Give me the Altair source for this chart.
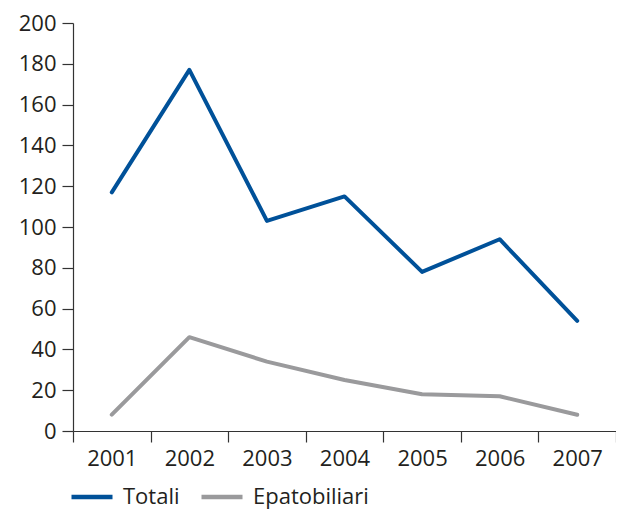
import altair as alt
import pandas as pd

years = ["2001", "2002", "2003", "2004", "2005", "2006", "2007"]
totali = [117, 177, 103, 115, 78, 94, 54]
epatobiliari = [8, 46, 34, 25, 18, 17, 8]
series = ["Totali", "Epatobiliari"]
colors = ["#005199", "#9a9a9c"]

rows = []
for y, v in zip(years, totali):
    rows.append({"anno": y, "valore": v, "serie": series[0]})
for y, v in zip(years, epatobiliari):
    rows.append({"anno": y, "valore": v, "serie": series[1]})
df = pd.DataFrame(rows)

FONT = "Open Sans"
TXT = "#231f20"

chart = alt.Chart(df).mark_line(strokeWidth=4, strokeCap="round", strokeJoin="round").encode(
    x=alt.X("anno:N", sort=years, scale=alt.Scale(type="band", paddingInner=0, paddingOuter=0),
            axis=alt.Axis(title=None, labelAngle=0, bandPosition=0, tickSize=11, labelPadding=6,
                          labelFontSize=22, labelColor=TXT, labelFont=FONT,
                          domainColor="#333333", tickColor="#333333", domainWidth=1.2, tickWidth=1.2,
                          grid=False, labelFlush=False, ticks=True, tickBand="extent")),
    y=alt.Y("valore:Q", scale=alt.Scale(domain=[0, 200], nice=False),
            axis=alt.Axis(title=None, values=list(range(0, 201, 20)), tickSize=11, labelPadding=6,
                          labelFontSize=22, labelColor=TXT, labelFont=FONT,
                          domainColor="#333333", tickColor="#333333", domainWidth=1.2, tickWidth=1.2,
                          grid=False)),
    color=alt.Color("serie:N", scale=alt.Scale(domain=series, range=colors),
                    legend=alt.Legend(title=None, orient="none", legendX=-4, legendY=451,
                                      direction="horizontal", symbolType="stroke",
                                      symbolSize=1681, symbolStrokeWidth=4.5,
                                      labelFontSize=22, labelColor=TXT, labelFont=FONT,
                                      labelOffset=8, columnPadding=12)),
).properties(
    width=543, height=408,
    autosize=alt.AutoSizeParams(type="none"),
    padding={"left": 65, "top": 15, "right": 0, "bottom": 78},
).configure_view(stroke=None)

chart.save("out.html", embed_options={"renderer": "svg", "actions": False})
